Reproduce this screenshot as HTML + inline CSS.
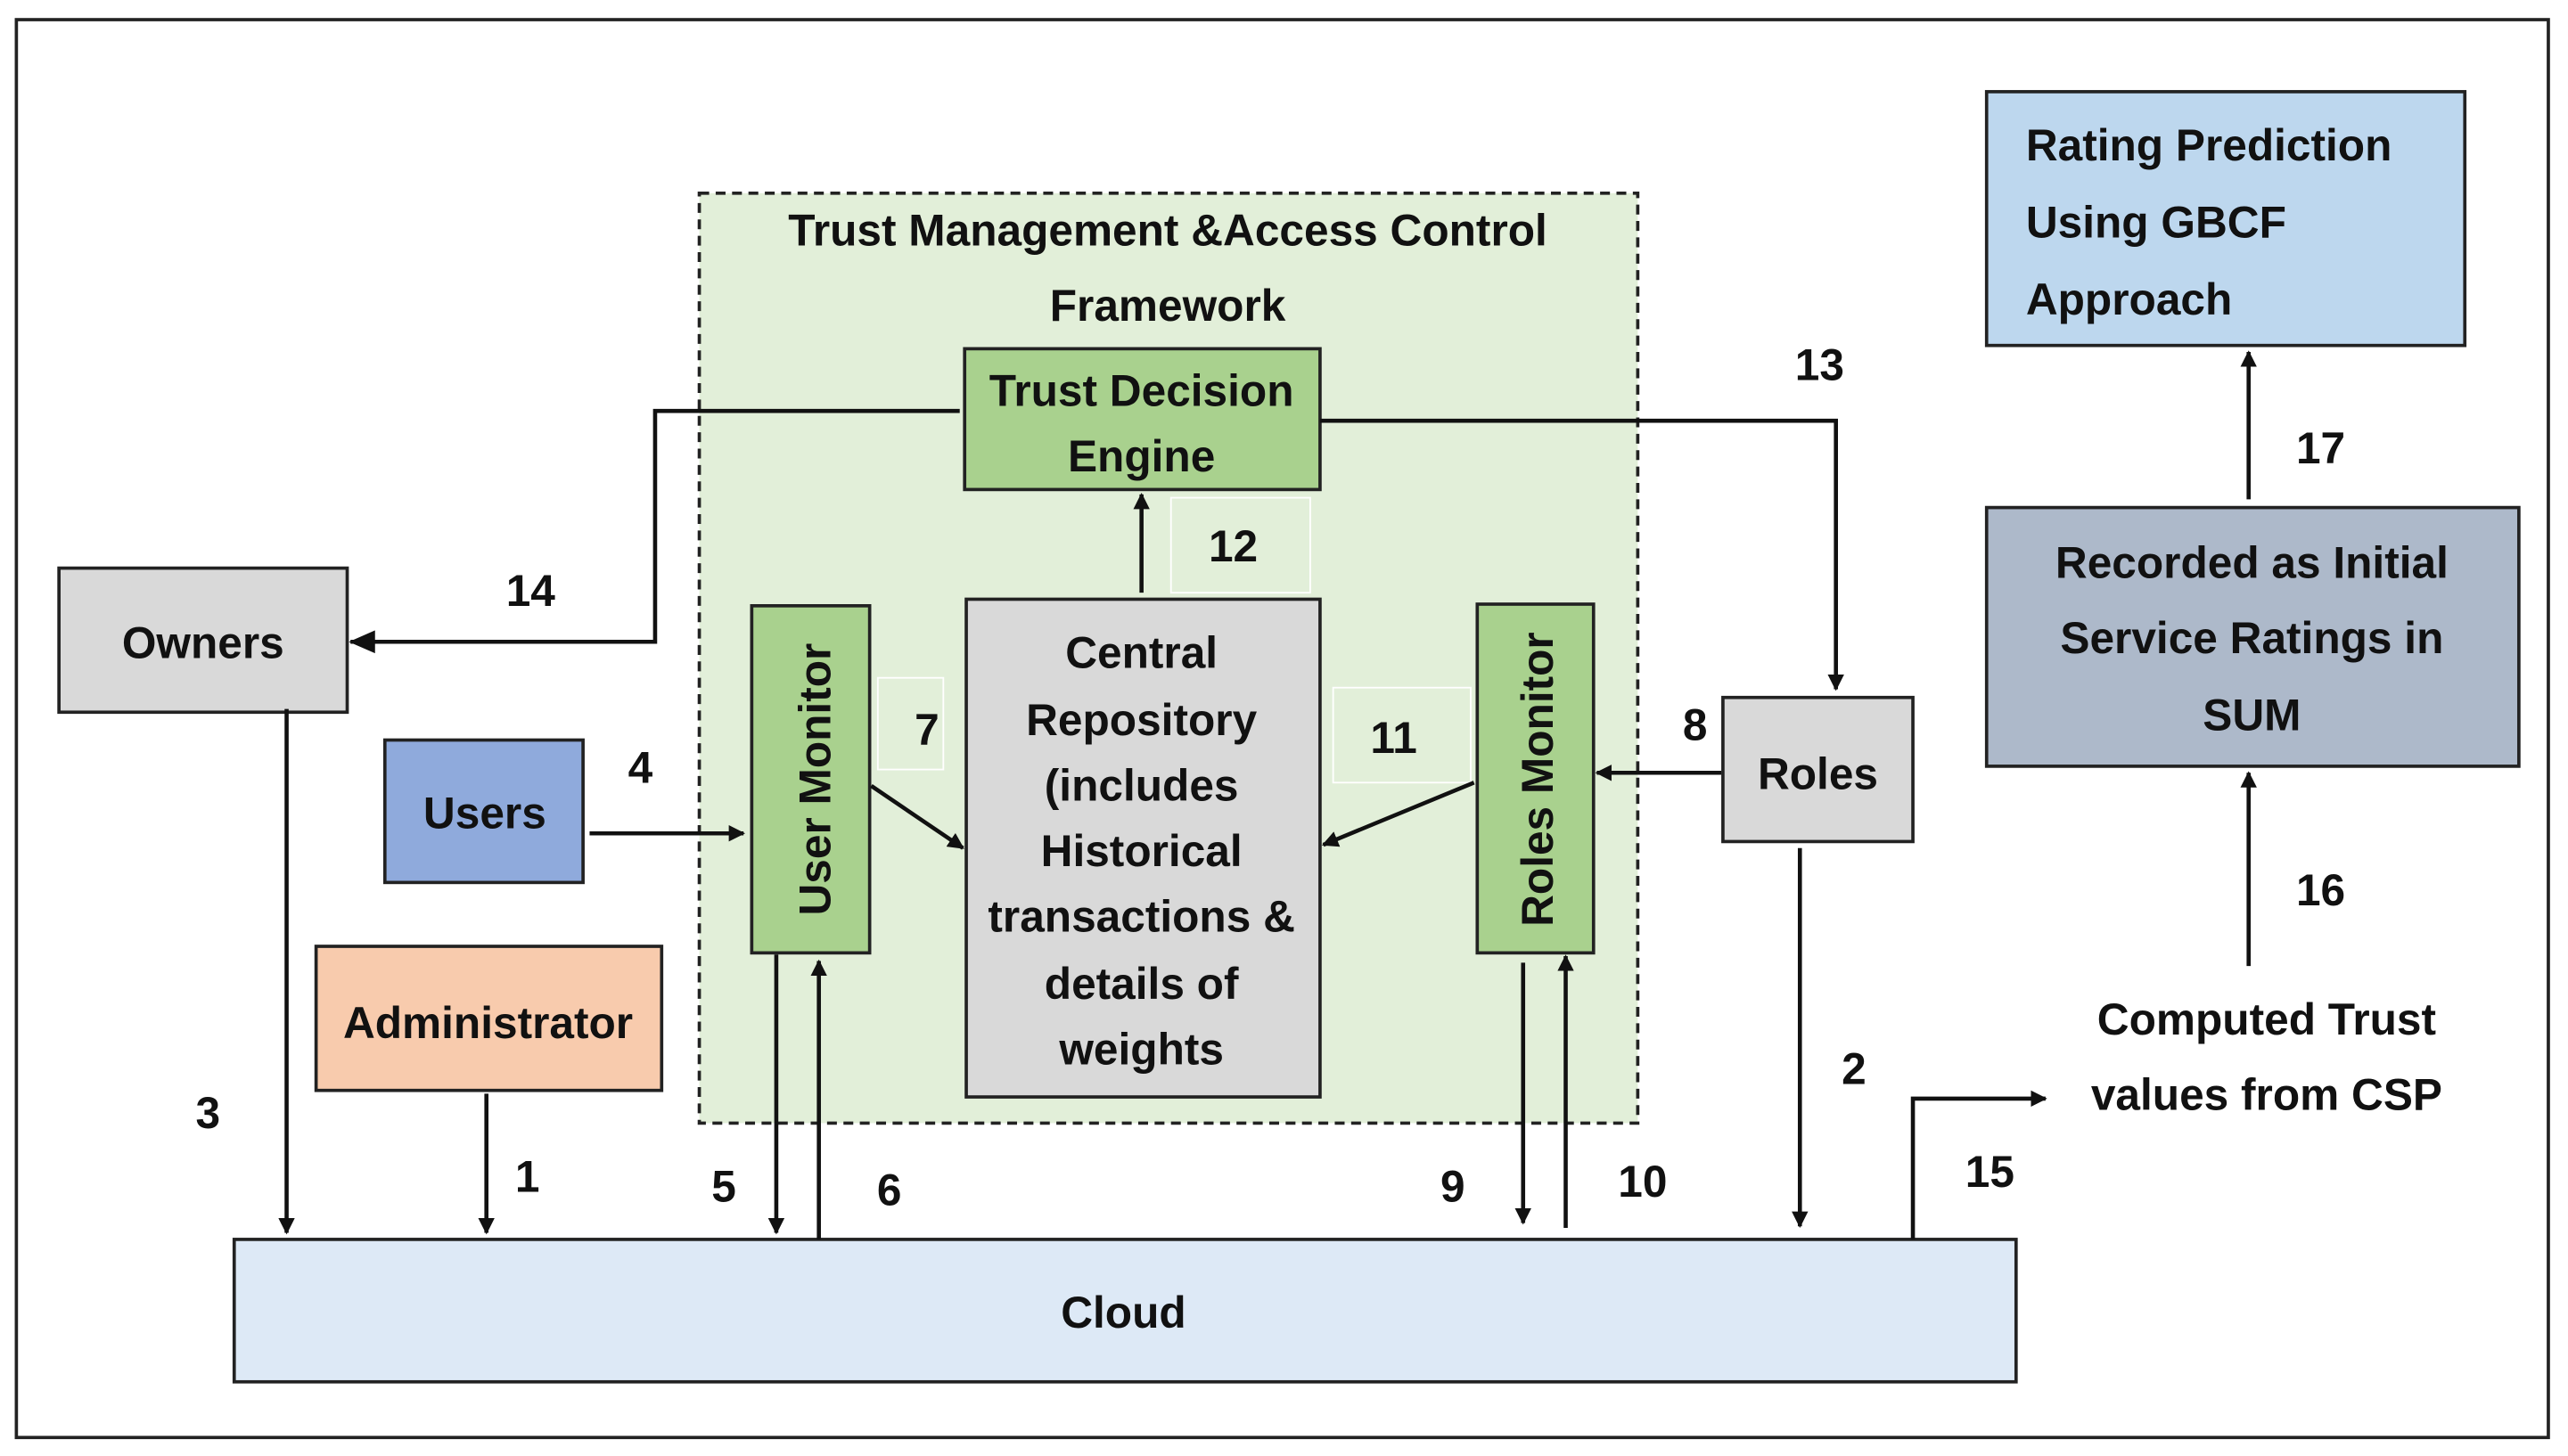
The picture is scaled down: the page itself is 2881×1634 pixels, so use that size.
<!DOCTYPE html>
<html><head><meta charset="utf-8"><style>
html,body{margin:0;padding:0;background:#fff;}
svg{display:block;}
text{font-family:"Liberation Sans Narrow","Liberation Sans",sans-serif;font-weight:bold;fill:#111;}
</style></head><body>
<svg width="2881" height="1634" viewBox="0 0 1568 889.3" preserveAspectRatio="none" xmlns="http://www.w3.org/2000/svg">
<defs><marker id="a" markerWidth="10" markerHeight="10" refX="9" refY="5" orient="auto" markerUnits="userSpaceOnUse"><path d="M0,0 L10,5 L0,10 Z" fill="#111"/></marker>
<marker id="b" markerWidth="16" markerHeight="14" refX="15" refY="7" orient="auto" markerUnits="userSpaceOnUse"><path d="M0,0 L16,7 L0,14 Z" fill="#111"/></marker></defs>
<rect x="0" y="0" width="1568" height="889.3" fill="#fff"/>
<rect x="10" y="12" width="1546" height="866" fill="none" stroke="#222" stroke-width="2"/>
<!-- framework -->
<rect x="427" y="118" width="573" height="568" fill="#e2efd9" stroke="#222" stroke-width="2" stroke-dasharray="6,4"/>
<text x="713" y="150" font-size="27" text-anchor="middle">Trust Management &amp;Access Control</text>
<text x="713" y="196" font-size="27" text-anchor="middle">Framework</text>
<rect x="589" y="213" width="217" height="86" fill="#a9d18e" stroke="#222" stroke-width="2"/>
<text x="697" y="248" font-size="27" text-anchor="middle">Trust Decision</text>
<text x="697" y="288" font-size="27" text-anchor="middle">Engine</text>
<rect x="715" y="304" width="85" height="58" fill="none" stroke="#fff" stroke-width="1"/>
<text x="753" y="343" font-size="27" text-anchor="middle">12</text>
<rect x="590" y="366" width="216" height="304" fill="#d9d9d9" stroke="#222" stroke-width="2"/>
<g font-size="27" text-anchor="middle">
<text x="697" y="408">Central</text><text x="697" y="449">Repository</text><text x="697" y="489">(includes</text>
<text x="697" y="529">Historical</text><text x="697" y="569">transactions &amp;</text><text x="697" y="610">details of</text><text x="697" y="650">weights</text></g>
<rect x="459" y="370" width="72" height="212" fill="#a9d18e" stroke="#222" stroke-width="2"/>
<text transform="translate(507,476) rotate(-90)" font-size="27" text-anchor="middle" style="font-family:'Liberation Sans',sans-serif">User Monitor</text>
<rect x="902" y="369" width="71" height="213" fill="#a9d18e" stroke="#222" stroke-width="2"/>
<text transform="translate(948,476) rotate(-90)" font-size="27" text-anchor="middle" style="font-family:'Liberation Sans',sans-serif">Roles Monitor</text>
<rect x="536" y="414" width="40" height="56" fill="none" stroke="#fff"/>
<text x="566" y="455" font-size="27" text-anchor="middle">7</text>
<rect x="814" y="420" width="84" height="58" fill="none" stroke="#fff"/>
<text x="851" y="460" font-size="27" text-anchor="middle">11</text>
<!-- left boxes -->
<rect x="36" y="347" width="176" height="88" fill="#d9d9d9" stroke="#222" stroke-width="2"/>
<text x="124" y="402" font-size="27" text-anchor="middle">Owners</text>
<rect x="235" y="452" width="121" height="87" fill="#8faadc" stroke="#222" stroke-width="2"/>
<text x="296" y="506" font-size="27" text-anchor="middle">Users</text>
<rect x="193" y="578" width="211" height="88" fill="#f8cbad" stroke="#222" stroke-width="2"/>
<text x="298" y="634" font-size="27" text-anchor="middle">Administrator</text>
<rect x="1052" y="426" width="116" height="88" fill="#d9d9d9" stroke="#222" stroke-width="2"/>
<text x="1110" y="482" font-size="27" text-anchor="middle">Roles</text>
<rect x="143" y="757" width="1088" height="87" fill="#dde9f6" stroke="#222" stroke-width="2"/>
<text x="686" y="811" font-size="27" text-anchor="middle">Cloud</text>
<!-- right boxes -->
<rect x="1213" y="56" width="292" height="155" fill="#bdd7ee" stroke="#222" stroke-width="2"/>
<text x="1237" y="98" font-size="27">Rating Prediction</text>
<text x="1237" y="145" font-size="27">Using GBCF</text>
<text x="1237" y="192" font-size="27">Approach</text>
<rect x="1213" y="310" width="325" height="158" fill="#adb9ca" stroke="#222" stroke-width="2"/>
<g font-size="27" text-anchor="middle"><text x="1375" y="353">Recorded as Initial</text><text x="1375" y="399">Service Ratings in</text><text x="1375" y="446">SUM</text>
<text x="1384" y="632">Computed Trust</text><text x="1384" y="678">values from CSP</text></g>
<!-- connectors -->
<g stroke="#111" stroke-width="2.5" fill="none">
<path d="M586,251 H400 V392 H214" marker-end="url(#b)"/>
<path d="M806,257 H1121 V421" marker-end="url(#a)"/>
<path d="M697,362 V302" marker-end="url(#a)"/>
<path d="M360,509 H454" marker-end="url(#a)"/>
<path d="M532,480 L588,518" marker-end="url(#a)"/>
<path d="M900,478 L808,516" marker-end="url(#a)"/>
<path d="M1051,472 H975" marker-end="url(#a)"/>
<path d="M175,433 V753" marker-end="url(#a)"/>
<path d="M297,668 V753" marker-end="url(#a)"/>
<path d="M474,583 V753" marker-end="url(#a)"/>
<path d="M500,757 V587" marker-end="url(#a)"/>
<path d="M930,588 V747" marker-end="url(#a)"/>
<path d="M956,750 V584" marker-end="url(#a)"/>
<path d="M1099,518 V749" marker-end="url(#a)"/>
<path d="M1168,757 V671 H1249" marker-end="url(#a)"/>
<path d="M1373,590 V472" marker-end="url(#a)"/>
<path d="M1373,305 V215" marker-end="url(#a)"/>
</g>
<g font-size="27" text-anchor="middle">
<text x="324" y="370">14</text><text x="1111" y="232">13</text><text x="391" y="478">4</text><text x="1035" y="452">8</text>
<text x="127" y="689">3</text><text x="322" y="728">1</text><text x="442" y="734">5</text><text x="543" y="736">6</text>
<text x="887" y="734">9</text><text x="1003" y="731">10</text><text x="1132" y="662">2</text><text x="1215" y="725">15</text>
<text x="1417" y="553">16</text><text x="1417" y="283">17</text></g>
</svg>
</body></html>
